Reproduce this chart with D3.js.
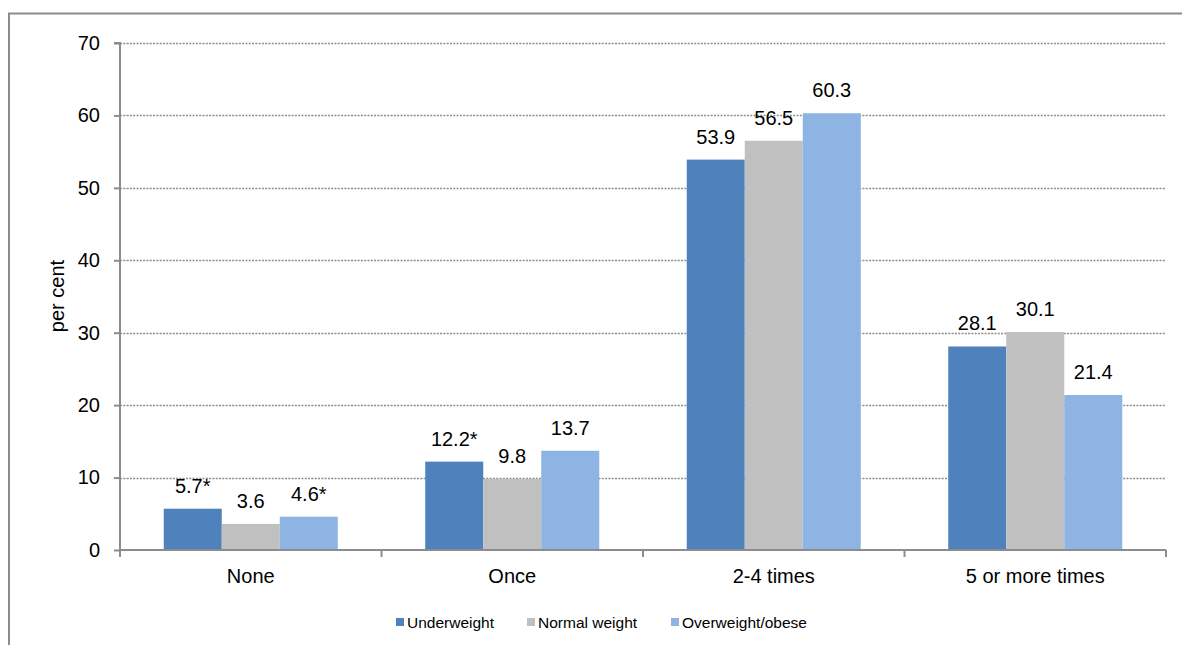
<!DOCTYPE html>
<html><head><meta charset="utf-8">
<script src="https://cdn.jsdelivr.net/npm/d3@7"></script>
<style>body{margin:0;background:#fff;} svg{display:block;font-family:"Liberation Sans",Arial,sans-serif;}</style>
</head><body>
<svg id="c" width="1182" height="645"></svg>
<script>
const categories = ["None","Once","2-4 times","5 or more times"];
const seriesNames = ["Underweight","Normal weight","Overweight/obese"];
const underweight = [5.7, 12.2, 53.9, 28.1];
const normalWeight = [3.6, 9.8, 56.5, 30.1];
const overweight = [4.6, 13.7, 60.3, 21.4];
const labelsUnder = ["5.7*","12.2*","53.9","28.1"];
const labelsNormal = ["3.6","9.8","56.5","30.1"];
const labelsOver = ["4.6*","13.7","60.3","21.4"];
const yTicks = [0,10,20,30,40,50,60,70];
const colors = ["#4f81bd","#c0c0c0","#8eb4e3"];

const series = [underweight, normalWeight, overweight];
const labels = [labelsUnder, labelsNormal, labelsOver];
const FS = 20;

const svg = d3.select("#c");
// outer frame
svg.append("rect").attr("x",9).attr("y",13.5).attr("width",1190).attr("height",660)
  .attr("fill","none").attr("stroke","#8c8c8c").attr("stroke-width",2);

const L=120, R=1166, T=43, B=550;
const x = d3.scaleBand().domain(categories).range([L,R]).paddingInner(0).paddingOuter(0);
const x1 = d3.scaleBand().domain(seriesNames).range([0,x.bandwidth()]).paddingOuter(0.754).paddingInner(0);
const y = d3.scaleLinear().domain([0,70]).range([B,T]);

// gridlines
svg.append("g").selectAll("line").data(yTicks.filter(d=>d>0)).join("line")
  .attr("x1",L).attr("x2",R).attr("y1",d=>Math.round(y(d))+0.5).attr("y2",d=>Math.round(y(d))+0.5)
  .attr("stroke","#8c8c8c").attr("stroke-width",1.3).attr("stroke-dasharray","2,1.3");

// bars
const g = svg.append("g");
series.forEach((vals,si)=>{
  g.selectAll(null).data(vals).join("rect")
    .attr("x",(d,i)=>x(categories[i])+x1(seriesNames[si]))
    .attr("width",x1.bandwidth())
    .attr("y",d=>y(d)).attr("height",d=>B-y(d))
    .attr("fill",colors[si]);
  g.selectAll(null).data(vals).join("text")
    .attr("x",(d,i)=>x(categories[i])+x1(seriesNames[si])+x1.bandwidth()/2)
    .attr("y",d=>y(d)-16)
    .attr("text-anchor","middle").attr("font-size",FS).attr("fill","#000")
    .text((d,i)=>labels[si][i]);
});

// y axis
const ya = svg.append("g").attr("transform",`translate(${L},0)`)
  .call(d3.axisLeft(y).tickValues(yTicks).tickSize(6).tickPadding(14).tickFormat(d3.format("d")));
ya.select(".domain").attr("stroke","#8c8c8c").attr("stroke-width",2).attr("d",`M-6,${T}H0V${B}`);
ya.selectAll(".tick line").attr("stroke","#8c8c8c").attr("stroke-width",2);
ya.selectAll("text").attr("font-size",FS).attr("fill","#000").attr("font-family","Liberation Sans, Arial, sans-serif");

// x axis
const xa = svg.append("g").attr("transform",`translate(0,${B})`)
  .call(d3.axisBottom(x).tickSize(0).tickPadding(0));
xa.select(".domain").attr("stroke","#8c8c8c").attr("stroke-width",2).attr("d",`M${L},0H${R}`);
xa.selectAll("text").attr("dy",null).attr("y",33).attr("font-size",FS).attr("fill","#000").attr("font-family","Liberation Sans, Arial, sans-serif");
const bounds = [L, ...categories.map(c=>x(c)+x.bandwidth())];
svg.append("g").selectAll("line").data(bounds).join("line")
  .attr("x1",d=>d).attr("x2",d=>d).attr("y1",B).attr("y2",B+7)
  .attr("stroke","#8c8c8c").attr("stroke-width",2);

// y label
svg.append("text").attr("transform","translate(64,296) rotate(-90)")
  .attr("text-anchor","middle").attr("font-size",FS).attr("fill","#000").text("per cent");

// legend
const legX = [396, 527, 671];
const leg = svg.append("g");
seriesNames.forEach((n,i)=>{
  leg.append("rect").attr("x",legX[i]).attr("y",618).attr("width",8).attr("height",8).attr("fill",colors[i]);
  leg.append("text").attr("x",legX[i]+11).attr("y",627.5).attr("font-size",15.5).attr("fill","#000").text(n);
});
</script>
</body></html>
